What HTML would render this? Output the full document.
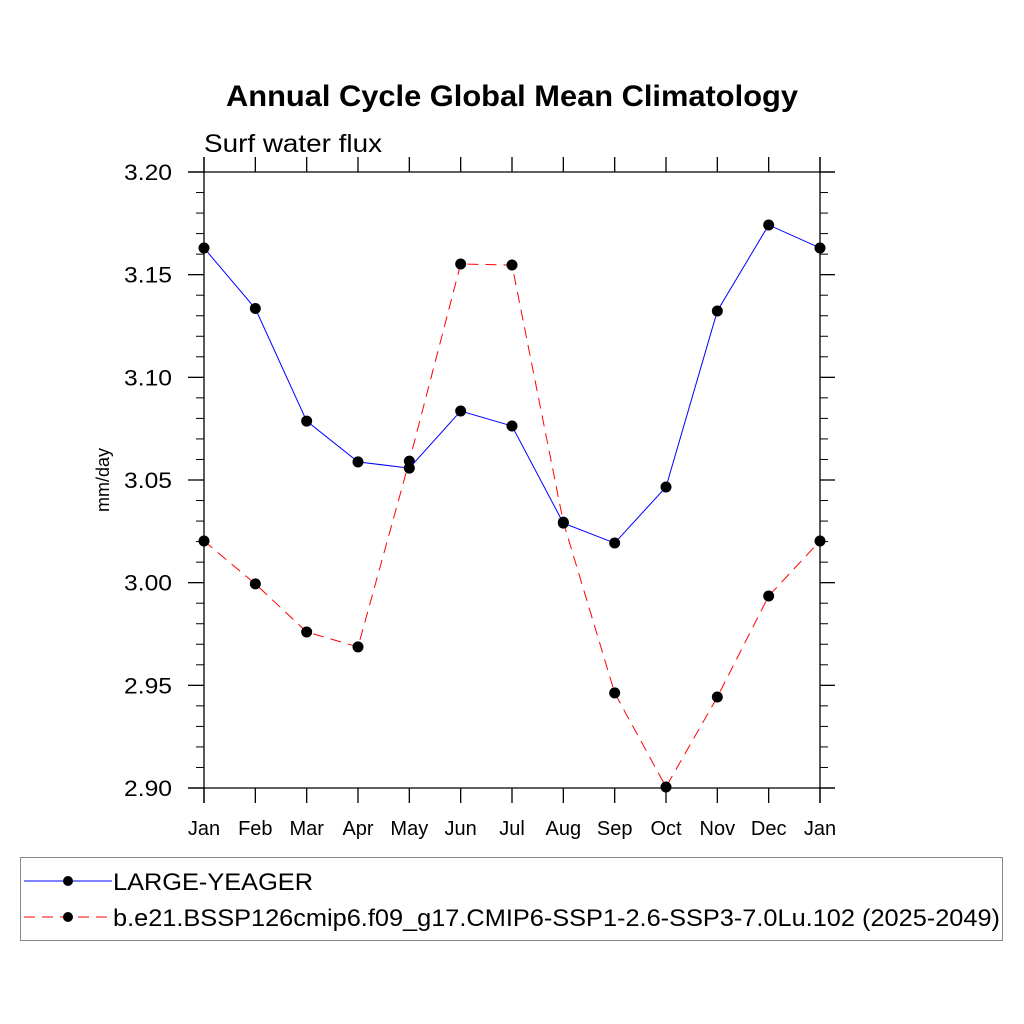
<!DOCTYPE html>
<html><head><meta charset="utf-8"><style>
body{margin:0;background:#fff;}
svg{display:block;font-family:"Liberation Sans",sans-serif;}
</style></head><body>
<svg id="chart" width="1024" height="1024" viewBox="0 0 1024 1024">
<rect width="1024" height="1024" fill="#fff"/>
<text x="226" y="106" font-size="30" font-weight="bold" textLength="572" lengthAdjust="spacingAndGlyphs">Annual Cycle Global Mean Climatology</text>
<text x="204" y="152" font-size="25" textLength="178" lengthAdjust="spacingAndGlyphs">Surf water flux</text>
<text transform="translate(109,480) rotate(-90)" text-anchor="middle" font-size="18">mm/day</text>
<g id="axes"></g>
<g id="series"></g>
<g>
<rect x="20.5" y="857.5" width="982" height="83" fill="none" stroke="#888" stroke-width="1"/>
<g>
<line x1="24" y1="881" x2="112" y2="881" stroke="#00f" stroke-width="1"/>
<circle cx="68" cy="881" r="5" fill="#000"/>
<text x="113" y="890" font-size="24" textLength="200" lengthAdjust="spacingAndGlyphs">LARGE-YEAGER</text>
</g>
<g>
<line x1="24" y1="917" x2="112" y2="917" stroke="#f00" stroke-width="1" stroke-dasharray="11,7"/>
<circle cx="68" cy="917" r="5" fill="#000"/>
<text x="113" y="926" font-size="24" textLength="887" lengthAdjust="spacingAndGlyphs">b.e21.BSSP126cmip6.f09_g17.CMIP6-SSP1-2.6-SSP3-7.0Lu.102 (2025-2049)</text>
</g>
</g>
</svg>
<script>
const months = ["Jan","Feb","Mar","Apr","May","Jun","Jul","Aug","Sep","Oct","Nov","Dec","Jan"];
const largeYeager = [3.163,3.1335,3.0787,3.0588,3.0558,3.0836,3.0763,3.029,3.0193,3.0466,3.1323,3.1742,3.163];
const sspRun = [3.0203,2.9994,2.976,2.9687,3.0592,3.1552,3.1547,3.0295,2.9463,2.9005,2.9443,2.9935,3.0203];
const yTicks = ["2.90","2.95","3.00","3.05","3.10","3.15","3.20"];
const yMin = 2.90, yMax = 3.20;

const NS = "http://www.w3.org/2000/svg";
const L = 204, R = 820, T = 172, B = 788;
function xs(i){ return L + (R - L) * i / (months.length - 1); }
function ys(v){ return B - (B - T) * (v - yMin) / (yMax - yMin); }
function mk(tag, attrs, parent){ const e = document.createElementNS(NS, tag); for (const k in attrs) e.setAttribute(k, attrs[k]); parent.appendChild(e); return e; }

const axes = document.getElementById("axes");
const frame = [[L,157,L,803],[R,157,R,803],[188,B,835,B],[188,T,835,T]];
frame.forEach(f => {
  const ln = mk("line", {x1:f[0],y1:f[1],x2:f[2],y2:f[3],stroke:"#000","stroke-width":1.3}, axes);
  
  
});
months.forEach((m, i) => {
  const x = xs(i);
  mk("line", {x1:x,y1:B,x2:x,y2:803,stroke:"#000","stroke-width":1.3}, axes);
  mk("line", {x1:x,y1:T,x2:x,y2:157,stroke:"#000","stroke-width":1.3}, axes);
  const t = mk("text", {x:x,y:835,"text-anchor":"middle","font-size":20}, axes);
  t.textContent = m;
  
  
});
for (let k = 0; k <= 30; k++) {
  const v = yMin + k * 0.01, y = ys(v);
  if (k % 5 === 0) continue;
  mk("line", {x1:L-8,y1:y,x2:L,y2:y,stroke:"#000","stroke-width":1}, axes);
  mk("line", {x1:R,y1:y,x2:R+8,y2:y,stroke:"#000","stroke-width":1}, axes);
}
yTicks.forEach(s => {
  const y = ys(parseFloat(s));
  mk("line", {x1:188,y1:y,x2:L,y2:y,stroke:"#000","stroke-width":1.3}, axes);
  mk("line", {x1:R,y1:y,x2:835,y2:y,stroke:"#000","stroke-width":1.3}, axes);
  const t = mk("text", {x:124,y:y+8,"font-size":22,textLength:48,lengthAdjust:"spacingAndGlyphs"}, axes);
  t.textContent = s;
  
  
});

const ser = document.getElementById("series");
function drawSeries(vals, color, dash, name){
  const g = mk("g", {}, ser);
  
  
  const pts = vals.map((v,i) => xs(i) + "," + ys(v)).join(" ");
  const pl = mk("polyline", {points:pts,fill:"none",stroke:color,"stroke-width":1}, g);
  if (dash) pl.setAttribute("stroke-dasharray", dash);
  
  
  vals.forEach((v,i) => {
    const c = mk("circle", {cx:xs(i),cy:ys(v),r:5.5,fill:"#000"}, g);
    
    
  });
}
drawSeries(sspRun, "#f00", "11,7", "ssp-series");
drawSeries(largeYeager, "#00f", null, "large-yeager-series");
</script>
</body></html>
